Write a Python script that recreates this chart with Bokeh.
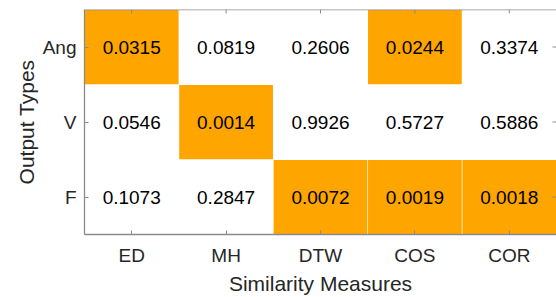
from bokeh.plotting import figure
from bokeh.models import ColumnDataSource, FactorRange, Span
from bokeh.core.properties import value
from bokeh.embed import file_html
from bokeh.resources import INLINE

measures = ["ED", "MH", "DTW", "COS", "COR"]
output_types = ["Ang", "V", "F"]
ang_vals = [0.0315, 0.0819, 0.2606, 0.0244, 0.3374]
v_vals = [0.0546, 0.0014, 0.9926, 0.5727, 0.5886]
f_vals = [0.1073, 0.2847, 0.0072, 0.0019, 0.0018]
threshold = 0.05

xs, ys, vals, colors, labels = [], [], [], [], []
for name, row in zip(output_types, [ang_vals, v_vals, f_vals]):
    for m, val in zip(measures, row):
        xs.append(m)
        ys.append(name)
        vals.append(val)
        colors.append("#FFA500" if val < threshold else "#FFFFFF")
        labels.append("%.4f" % val)

src = ColumnDataSource(dict(x=xs, y=ys, v=vals, c=colors, t=labels))

FONT = "Liberation Sans"
AX = "#8a8a8a"
TXT = "#262626"

p = figure(width=556, height=297, output_backend="svg", toolbar_location=None,
           x_range=FactorRange(*measures), y_range=FactorRange(*output_types[::-1]),
           min_border_left=84, min_border_right=0, min_border_top=9, min_border_bottom=63)
p.rect(x="x", y="y", width=0.993, height=0.99, fill_color="c", line_color=None, source=src)
p.text(x="x", y="y", text="t", source=src, text_align="center", text_baseline="middle",
       text_font=value(FONT), text_font_size="19px", text_color="#000000")

# box ticks on the top and right edges (MATLAB style, pointing inward)
top_row = output_types[0]
last_col = measures[-1]
tick_dx = 4 / 94.4
tick_dy = 4 / 75.0
p.segment(x0=measures, x1=measures,
          y0=[(top_row, 0.5)] * len(measures), y1=[(top_row, 0.5 - tick_dy)] * len(measures),
          line_color=AX, line_width=1)
p.segment(x0=[(last_col, 0.5)] * len(output_types), x1=[(last_col, 0.5 - tick_dx)] * len(output_types),
          y0=output_types, y1=output_types, line_color=AX, line_width=1)

# top edge of the box (the right edge lies just beyond the visible area)
p.add_layout(Span(location=len(output_types), dimension="width", line_color=AX, line_width=1.3))

p.grid.visible = False
p.outline_line_color = None
p.background_fill_color = "white"
p.border_fill_color = "white"

for ax in (p.xaxis[0], p.yaxis[0]):
    ax.axis_line_color = AX
    ax.axis_line_width = 1.3
    ax.major_tick_line_color = AX
    ax.major_tick_in = 4
    ax.major_tick_out = 0
    ax.major_label_text_font = FONT
    ax.major_label_text_font_size = "19px"
    ax.major_label_text_color = TXT
    ax.axis_label_text_font = FONT
    ax.axis_label_text_font_size = "21px"
    ax.axis_label_text_font_style = "normal"
    ax.axis_label_text_color = TXT

p.xaxis.axis_label = "Similarity Measures"
p.yaxis.axis_label = "Output Types"
p.xaxis.major_label_standoff = 10
p.yaxis.major_label_standoff = 8
p.xaxis.axis_label_standoff = 3
p.yaxis.axis_label_standoff = 2

open("out.html", "w").write(file_html(p, INLINE))
